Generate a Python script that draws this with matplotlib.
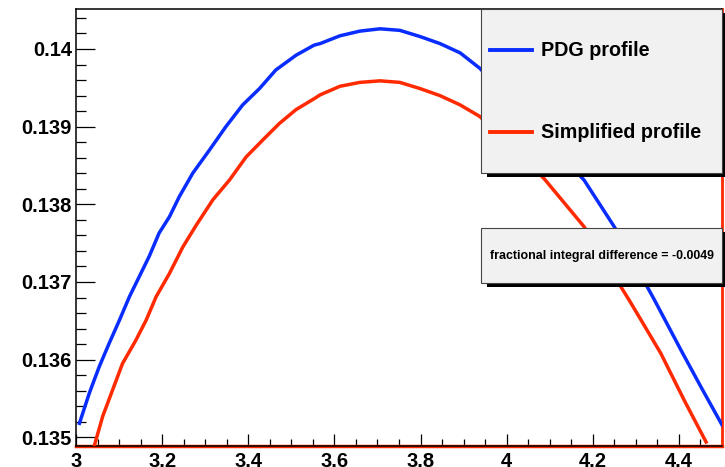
import matplotlib.pyplot as plt
from matplotlib.patches import Rectangle
from matplotlib.lines import Line2D
import numpy as np

# Données
pdg_x = [3.008, 3.031, 3.054, 3.077, 3.101, 3.124, 3.147, 3.170, 3.193, 3.217,
         3.240, 3.271, 3.310, 3.348, 3.387, 3.426, 3.464, 3.511, 3.553,
         3.567, 3.613, 3.659, 3.706, 3.752, 3.799, 3.845, 3.892, 3.938,
         4.180, 4.250, 4.343, 4.405, 4.451, 4.500]
pdg_y = [0.13518, 0.13557, 0.13591, 0.13621, 0.13651, 0.13681, 0.13707, 0.13733, 0.13763, 0.13784,
         0.13810, 0.13840, 0.13870, 0.13900, 0.13928, 0.13949, 0.13973, 0.13992, 0.14005,
         0.14007, 0.14017, 0.14023, 0.14026, 0.14024, 0.14016, 0.14007, 0.13995, 0.13975,
         0.13831, 0.13771, 0.13677, 0.13612, 0.13565, 0.13516]

simp_x = [3.043, 3.062, 3.085, 3.108, 3.139, 3.163, 3.186, 3.217, 3.248, 3.279,
          3.318, 3.356, 3.395, 3.434, 3.472, 3.511, 3.553,
          3.567, 3.613, 3.659, 3.706, 3.752, 3.799, 3.845, 3.892, 3.938,
          4.087, 4.141, 4.180, 4.265, 4.284, 4.312, 4.358, 4.412, 4.463]
simp_y = [0.13490, 0.13527, 0.13561, 0.13595, 0.13625, 0.13651, 0.13681, 0.13711, 0.13745, 0.13773,
          0.13806, 0.13831, 0.13861, 0.13883, 0.13904, 0.13922, 0.13936,
          0.13941, 0.13952, 0.13957, 0.13959, 0.13957, 0.13949, 0.13940, 0.13928, 0.13913,
          0.13833, 0.13797, 0.13771, 0.13694, 0.13677, 0.13651, 0.13608, 0.13548, 0.13494]

x_range = (3.0, 4.5)
y_range = (0.134888, 0.140515)
x_ticks = [3, 3.2, 3.4, 3.6, 3.8, 4, 4.2, 4.4]
x_labels = ['3', '3.2', '3.4', '3.6', '3.8', '4', '4.2', '4.4']
y_ticks = [0.135, 0.136, 0.137, 0.138, 0.139, 0.14]
y_labels = ['0.135', '0.136', '0.137', '0.138', '0.139', '0.14']
labels = ['PDG profile', 'Simplified profile']
diff_text = 'fractional integral difference = -0.0049'

blue = '#0a2dff'
red = '#ff2a00'

plt.rcParams['font.family'] = ['Liberation Sans', 'DejaVu Sans']
plt.rcParams['font.weight'] = 'bold'

W, H = 725, 467
fig = plt.figure(figsize=(W / 100, H / 100), dpi=100)
fig.patch.set_facecolor('white')

def fx(px):
    return px / W

def fy(py):
    return 1 - py / H

ax = fig.add_axes([fx(76), fy(446), (722 - 76) / W, (446 - 9) / H])

ax.plot(pdg_x, pdg_y, color=blue, lw=2.5, zorder=3)
ax.plot(simp_x, simp_y, color=red, lw=2.5, zorder=3)
# bords de l'histogramme
ax.axhline(y_range[0], color=red, lw=2.5, clip_on=False, zorder=2)
ax.axvline(x_range[1], color=red, lw=2.0, clip_on=False, zorder=2)

ax.set_xlim(*x_range)
ax.set_ylim(*y_range)
ax.set_xticks(x_ticks)
ax.set_xticklabels(x_labels, fontsize=14.5, fontweight='bold')
ax.set_yticks(y_ticks)
ax.set_yticklabels(y_labels, fontsize=14.5, fontweight='bold')
ax.set_xticks(np.arange(3.0, 4.5001, 0.05), minor=True)
ax.set_yticks(np.arange(0.1350, 0.14051, 0.0002), minor=True)

ax.tick_params(axis='y', which='major', direction='in', length=14, width=0.9, pad=3)
ax.tick_params(axis='y', which='minor', direction='in', length=7.5, width=0.9)
ax.tick_params(axis='x', which='major', direction='in', length=9, width=0.9, pad=4)
ax.tick_params(axis='x', which='minor', direction='in', length=4.8, width=0.9)

for s in ['left', 'top', 'bottom']:
    ax.spines[s].set_linewidth(1.1)
    ax.spines[s].set_color('black')
ax.spines['right'].set_visible(False)

# Légende (style ROOT)
def root_box(x0, y0, x1, y1):
    fig.patches.append(Rectangle((fx(x0 + 6), fy(y1 + 4)), (x1 - x0) / W, (y1 - y0) / H,
                                 transform=fig.transFigure, facecolor='black',
                                 edgecolor='none', zorder=10))
    fig.patches.append(Rectangle((fx(x0), fy(y1)), (x1 - x0) / W, (y1 - y0) / H,
                                 transform=fig.transFigure, facecolor='#f1f1f1',
                                 edgecolor='#444444', lw=0.8, zorder=11))

root_box(481, 9, 722, 173)
for i, (lab, col) in enumerate(zip(labels, [blue, red])):
    py = 50 + i * 82
    fig.lines.append(Line2D([fx(490), fx(532)], [fy(py), fy(py)], color=col, lw=2.8,
                            transform=fig.transFigure, zorder=12))
    fig.text(fx(541), fy(py), lab, fontsize=14.2, fontweight='bold', va='center',
             ha='left', zorder=12)

root_box(481, 228, 722, 283)
fig.text(fx(601.5), fy(255.5), diff_text, fontsize=8.9, fontweight='bold',
         va='center', ha='center', zorder=12)

plt.savefig('out.png', dpi=100)
